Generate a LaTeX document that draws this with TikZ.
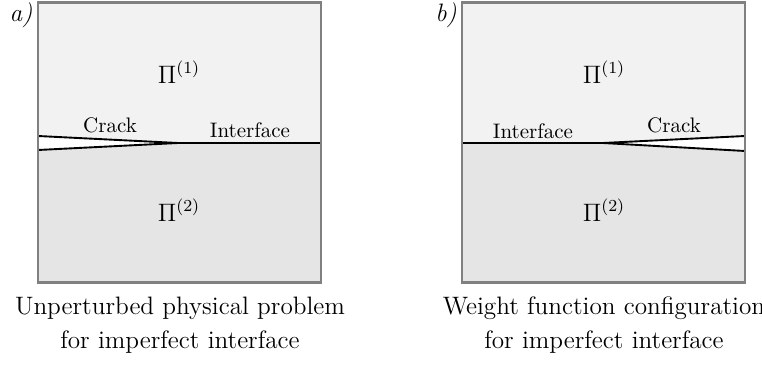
\documentclass[tikz,border=0pt]{standalone}
\usepackage{amsmath}
\usepackage{amssymb}

\begin{document}
\begin{tikzpicture}[x=.476pt,y=-.476pt,
  rim/.style={draw=black!50,line width=1pt},
  crackline/.style={line width=.9pt,line cap=round},
  caption/.style={anchor=base,font=\large}]
  \useasboundingbox (0,0) rectangle (762,365);
  \fill[gray!10] (38,2.5) rectangle (321,143) (462,2.5) rectangle (745,143);
  \fill[gray!20] (38,143) rectangle (321,282.5) (462,143) rectangle (745,282.5);
  \fill[white] (38,136) -- (178,143) -- (38,150) -- cycle (745,136) -- (603,143) -- (745,151) -- cycle;
  \draw[crackline] (38,136) -- (178,143) (38,150) -- (178,143) (178,143) -- (321,143);
  \draw[crackline] (745,136) -- (603,143) (745,151) -- (603,143) (603,143) -- (462,143);
  \draw[rim] (38,2.5) rectangle (321,282.5) (462,2.5) rectangle (745,282.5);
  \node[caption] (laba) at (21,21) {\textit{a)}};
  \node[caption] (labb) at (446,21) {\textit{b)}};
  \node[caption] (upa) at (179,83) {$\Pi^{(1)}$};
  \node[caption] (lowa) at (179,221) {$\Pi^{(2)}$};
  \node[caption] (upb) at (604,83) {$\Pi^{(1)}$};
  \node[caption] (lowb) at (604,221) {$\Pi^{(2)}$};
  \node[anchor=base] (cracka) at (110,133) {Crack};
  \node[anchor=base] (intera) at (250,138) {Interface};
  \node[anchor=base] (interb) at (533,139) {Interface};
  \node[anchor=base] (crackb) at (674,133) {Crack};
  \node[caption] (capa) at (180,315) {Unperturbed physical problem};
  \node[caption] (capaa) at (180,348) {for imperfect interface};
  \node[caption] (capb) at (604,315) {Weight function configuration};
  \node[caption] (capbb) at (604,348) {for imperfect interface};
\end{tikzpicture}
\end{document}
